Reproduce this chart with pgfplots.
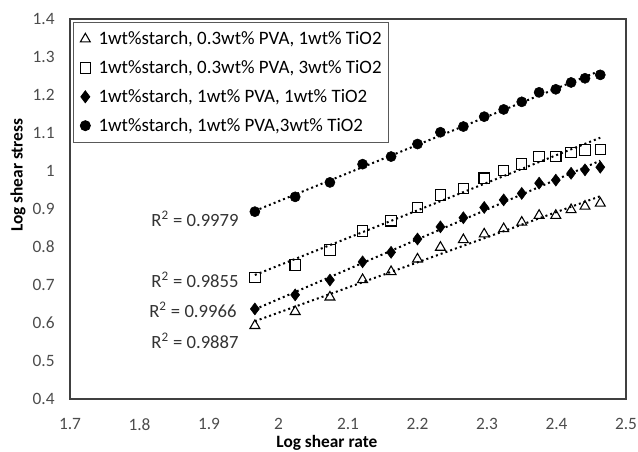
\documentclass[border=0pt]{standalone}
\usepackage{fontspec}
\setmainfont{Carlito}
\usepackage{pgfplots}
\usepackage{pgfplotstable}
\pgfplotsset{compat=1.18}

% 1wt% starch, 0.3wt% PVA, 1wt% TiO2
\pgfplotstableread{
x     y
1.966 0.593
2.024 0.630
2.074 0.668
2.121 0.714
2.162 0.735
2.200 0.768
2.233 0.799
2.266 0.819
2.296 0.834
2.324 0.848
2.350 0.865
2.375 0.883
2.399 0.883
2.421 0.898
2.441 0.907
2.463 0.915
}\tabA

% 1wt% starch, 0.3wt% PVA, 3wt% TiO2
\pgfplotstableread{
x     y
1.966 0.720
2.024 0.753
2.074 0.792
2.121 0.842
2.162 0.869
2.200 0.904
2.233 0.937
2.266 0.954
2.296 0.981
2.324 1.001
2.350 1.018
2.375 1.038
2.399 1.038
2.421 1.049
2.441 1.055
2.463 1.057
}\tabB

% 1wt% starch, 1wt% PVA, 1wt% TiO2
\pgfplotstableread{
x     y
1.966 0.637
2.024 0.674
2.074 0.713
2.121 0.761
2.162 0.786
2.200 0.821
2.233 0.853
2.266 0.877
2.296 0.904
2.324 0.924
2.350 0.941
2.375 0.968
2.399 0.976
2.421 0.994
2.441 1.003
2.463 1.010
}\tabC

% 1wt% starch, 1wt% PVA, 3wt% TiO2
\pgfplotstableread{
x     y
1.966 0.893
2.024 0.932
2.074 0.970
2.121 1.018
2.162 1.038
2.200 1.071
2.233 1.102
2.266 1.117
2.296 1.143
2.324 1.162
2.350 1.182
2.375 1.207
2.399 1.215
2.421 1.233
2.441 1.244
2.463 1.253
}\tabD

\pgfplotsset{trend/.style={black, line width=1.5pt, dash pattern=on 1.5pt off 2.3pt, forget plot}}

\begin{document}
\begin{tikzpicture}
\begin{axis}[
  at={(0,0)}, anchor=south west,
  scale only axis, width=417pt, height=285pt,
  xmin=1.7, xmax=2.5, ymin=0.4, ymax=1.4,
  xtick={1.7,1.8,1.9,2,2.1,2.2,2.3,2.4,2.5},
  ytick={0.4,0.5,0.6,0.7,0.8,0.9,1,1.1,1.2,1.3,1.4},
  major tick length=0pt,
  axis line style={black!75, line width=0.9pt},
  /pgf/number format/assume math mode=true,
  tick label style={font=\fontsize{13}{15}\selectfont, text=black!70},
  xticklabel style={yshift=-11pt},
  yticklabel style={xshift=-8pt},
  xlabel={Log shear rate},
  ylabel={Log shear stress},
  label style={font=\bfseries\fontsize{13}{15}\selectfont, inner sep=0pt},
  xlabel style={at={(axis description cs:0.462,-0.116)}, anchor=center},
  ylabel style={at={(axis description cs:-0.0935,0.589)}, anchor=center},
  legend cell align=left,
  legend image post style={xshift=2pt},
  legend style={at={(rel axis cs:0,1)}, anchor=north west, xshift=2.3pt, yshift=-2.3pt,
    draw=black!65, line width=0.6pt, font=\fontsize{14.2}{17}\selectfont,
    row sep=10.8pt, inner xsep=5pt, inner ysep=7pt,
    nodes={inner sep=0pt, text depth=0.1em}, column sep=6pt},
]
\addplot[only marks, mark=triangle, mark size=4.3pt, mark options={black, line width=0.8pt, fill=white}] table {\tabA};
\addlegendentry{1wt\%starch, 0.3wt\% PVA, 1wt\% TiO2}
\addplot[only marks, mark=square, mark size=3.9pt, mark options={black, line width=0.8pt, fill=white}] table {\tabB};
\addlegendentry{1wt\%starch, 0.3wt\% PVA, 3wt\% TiO2}
\addplot[only marks, mark=diamond*, mark size=4.5pt, mark options={black, fill=black}] table {\tabC};
\addlegendentry{1wt\%starch, 1wt\% PVA, 1wt\% TiO2}
\addplot[only marks, mark=*, mark size=3.8pt, mark options={black, fill=black}] table {\tabD};
\addlegendentry{1wt\%starch, 1wt\% PVA,3wt\% TiO2}

% linear trendlines of each series
\addplot[trend] table[x=x, y={create col/linear regression={y=y}}] {\tabA};
\addplot[trend] table[x=x, y={create col/linear regression={y=y}}] {\tabB};
\addplot[trend] table[x=x, y={create col/linear regression={y=y}}] {\tabC};
\addplot[trend] table[x=x, y={create col/linear regression={y=y}}] {\tabD};

\begin{scope}[every node/.style={anchor=east, font=\fontsize{14}{16}\selectfont, text=black!80, inner sep=0pt}]
\node at (axis cs:1.943,0.874) {R\textsuperscript{2} = 0.9979};
\node at (axis cs:1.943,0.713) {R\textsuperscript{2} = 0.9855};
\node at (axis cs:1.940,0.634) {R\textsuperscript{2} = 0.9966};
\node at (axis cs:1.943,0.553) {R\textsuperscript{2} = 0.9887};
\end{scope}
\end{axis}
\pgfresetboundingbox
\useasboundingbox (-52.5pt,-39pt) rectangle (426pt,299.25pt);
\end{tikzpicture}
\end{document}
